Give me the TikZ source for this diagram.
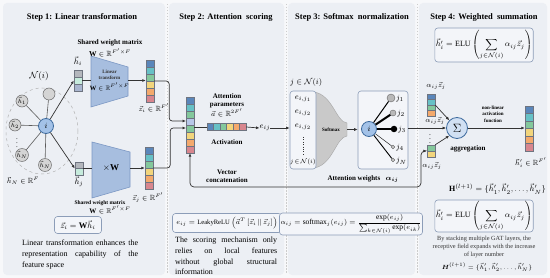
\documentclass[tikz,border=0pt]{standalone}
\usepackage{amsmath}
\usepackage{amssymb}
\usepackage{fontspec}
\setmainfont{Liberation Serif}
\usetikzlibrary{arrows.meta}
\definecolor{pagec}{HTML}{F7F8FA}
\definecolor{panelc}{HTML}{ECEFF4}
\definecolor{boxc}{HTML}{8C9DB8}
\definecolor{boxf}{HTML}{F3F5F9}
\definecolor{trapf}{HTML}{A7BEDF}
\definecolor{trapd}{HTML}{7C98C4}
\definecolor{vblue}{HTML}{5A86BA}
\definecolor{vteal}{HTML}{67C1C6}
\definecolor{vgreen}{HTML}{84C89C}
\definecolor{vyellow}{HTML}{F2D57C}
\definecolor{vorange}{HTML}{F4A96C}
\definecolor{vpink}{HTML}{D8868E}
\definecolor{vlav}{HTML}{B7C7E8}
\definecolor{hgrey}{HTML}{B4B7BD}
\definecolor{hmint}{HTML}{C6EBDC}
\definecolor{hlav}{HTML}{A9B5CF}
\definecolor{inode}{HTML}{A3C2E8}
\definecolor{inoded}{HTML}{3E6B9E}
\definecolor{gnodef}{HTML}{D4D4D4}
\definecolor{darkc}{HTML}{333333}
\definecolor{funnelc}{HTML}{C9C9C9}
\definecolor{cellb}{HTML}{6E7480}
\newcommand{\vcells}[5]{%
  \foreach \cc [count=\kk] in {#5}{%
    \filldraw[fill=\cc, draw=cellb, line width=0.3pt] ({#1-#3/2},{#2+(\kk-1)*#4}) rectangle ({#1+#3/2},{#2+\kk*#4});
  }}
\newcommand{\hcells}[5]{%
  \foreach \cc [count=\kk] in {#5}{%
    \filldraw[fill=\cc, draw=cellb, line width=0.3pt] ({#1+(\kk-1)*#3},{#2-#4/2}) rectangle ({#1+\kk*#3},{#2+#4/2});
  }}
\tikzset{
  ttl/.style={font=\fontsize{8.5}{10}\selectfont\bfseries, inner sep=0},
  lbl/.style={font=\fontsize{7}{8}\selectfont\bfseries, align=center, inner sep=0},
  mlbl/.style={font=\fontsize{7.5}{8}\selectfont, inner sep=0},
  body/.style={font=\fontsize{8}{10}\selectfont, inner sep=0, anchor=base west},
  fbox/.style={draw=boxc, fill=boxf, rounded corners=3pt, line width=0.6pt, inner sep=1pt},
  arr/.style={-{Latex[length=3.5pt,width=3pt]}, line width=0.7pt, draw=darkc},
  vecn/.style={inner sep=0, minimum width=8, draw=none},
  gnode/.style={circle, fill=gnodef, draw=gray!80!black, line width=0.5pt, minimum size=12, inner sep=0, font=\fontsize{6}{6}\selectfont},
  inodest/.style={circle, fill=inode, draw=inoded, line width=0.8pt, minimum size=15, inner sep=0, font=\fontsize{8.5}{8}\selectfont},
  gedge/.style={draw=darkc!80, line width=0.6pt},
  sep/.style={draw=gray!40, line width=0.8pt, dash pattern=on 1.5pt off 1.5pt},
}
\begin{document}
\begin{tikzpicture}[x=1pt,y=-1pt]
\fill[pagec] (0,0) rectangle (550,278);
\useasboundingbox (0,0) rectangle (550,278);
% panels
\fill[panelc, rounded corners=4pt] (3,3) rectangle (165,275);
\fill[panelc, rounded corners=4pt] (169,3) rectangle (284,275);
\fill[panelc, rounded corners=4pt] (288,3) rectangle (415,275);
\fill[panelc, rounded corners=4pt] (419,3) rectangle (547,275);
\draw[sep] (167,4) -- (167,274);
\draw[sep] (286,4) -- (286,274);
\draw[sep] (417,4) -- (417,274);
% titles
\node[ttl] (t1) at (82,17) {Step 1: Linear transformation};
\node[ttl] (t2) at (226,17) {Step 2: Attention\ \ scoring};
\node[ttl] (t3) at (352,17) {Step 3: Softmax\ \ normalization};
\node[ttl] (t4) at (484,17) {Step 4: Weighted\ \ summation};

% ===== Step 1 =====
\draw[gray!60, dashed, line width=0.5pt] (42,131) ellipse [x radius=36, y radius=43];
\node[font=\fontsize{9.5}{9}\selectfont, inner sep=0] (Ni) at (39,76) {$\mathcal{N}(i)$};
\node[inodest] (ci) at (46,126) {$i$};
\node[gnode] (g0) at (49,94) {};
\node[gnode] (g1) at (22,101) {$\vec{h}_1$};
\node[gnode] (g2) at (15,125) {$\vec{h}_2$};
\node[gnode] (g3) at (22,155) {$\vec{h}_N$};
\node[gnode] (g4) at (45,165) {$\vec{h}_N$};
\node[font=\fontsize{7}{7}\selectfont, inner sep=0] (gd) at (17,140) {$\vdots$};
\foreach \g in {g0,g1,g2,g3,g4} \draw[gedge] (ci) -- (\g);
\node[mlbl] (hNl) at (23,181) {$\vec{h}_N\in\mathbb{R}^{F}$};
% h_i
\vcells{78}{70}{8}{7}{hgrey,hmint,hlav}
\node[vecn, minimum height=21] (hi) at (78,80.5) {};
\node[mlbl, font=\fontsize{8.5}{8}\selectfont] (hil) at (78,61) {$\vec{h}_i$};
% h_j
\vcells{79}{162}{8}{6.5}{hgrey,hmint}
\node[vecn, minimum height=13] (hj) at (79,168.5) {};
\node[mlbl, font=\fontsize{8.5}{8}\selectfont] (hjl) at (79,182) {$\vec{h}_j$};
\draw[arr] (ci) -- (hi.west);
\draw[arr] (ci) -- (hj.west);
% trapezoid 1
\filldraw[fill=trapf, draw=trapd, line width=0.6pt] (91,56) -- (128,67) -- (128,96) -- (91,107) -- cycle;
\coordinate (t1w) at (91,80.5);
\coordinate (t1e) at (128,80.5);
\node[lbl, font=\fontsize{5}{6}\selectfont\bfseries, text=darkc] (t1a) at (109.5,75) {Linear\\transform};
\node[mlbl, font=\fontsize{6.5}{7}\selectfont] (t1b) at (109.5,87) {$\mathbf{W}\in\mathbb{R}^{F'\times F}$};
\node[lbl] (swm1) at (110,43) {Shared weight matrix};
\node[mlbl] (swm1b) at (110,53) {$\mathbf{W}\in\mathbb{R}^{F'\times F}$};
\draw[darkc, line width=0.7pt] (hi.east |- t1w) -- (t1w);
% trapezoid 2
\filldraw[fill=trapf, draw=trapd, line width=0.6pt] (92,142) -- (130,152) -- (130,187) -- (92,198) -- cycle;
\coordinate (t2w) at (92,168);
\coordinate (t2e) at (130,168);
\node[mlbl, font=\fontsize{9}{9}\selectfont] (t2a) at (111,168) {$\times\mathbf{W}$};
\draw[darkc, line width=0.7pt] (hj.east |- t2w) -- (t2w);
\node[lbl, font=\fontsize{5.5}{6}\selectfont\bfseries] (swm2) at (100,203) {Shared weight matrix};
\node[mlbl, font=\fontsize{7}{8}\selectfont] (swm2b) at (110,210) {$\mathbf{W}\in\mathbb{R}^{F'\times F}$};
% z_i, z_j
\vcells{150}{60}{8}{7}{vblue,vteal,vgreen,vyellow,vorange,vpink}
\node[vecn, minimum height=42] (zi) at (150,81) {};
\node[mlbl] (zil) at (154,108) {$\vec{z}_i\in\mathbb{R}^{F'}$};
\vcells{149}{147}{8}{7}{vblue,vteal,vgreen,vyellow,vorange,vpink}
\node[vecn, minimum height=42] (zj) at (149,168) {};
\node[mlbl] (zjl) at (148,198) {$\vec{z}_j\in\mathbb{R}^{F'}$};
\draw[arr] (t1e) -- (t1e -| zi.west);
\draw[arr] (t2e) -- (t2e -| zj.west);
% formula + text
\node[fbox, minimum width=47, minimum height=17, font=\fontsize{8.5}{9}\selectfont] (f1) at (78,225) {$\vec{z}_i=\mathbf{W}\vec{h}_i$};
\node[body] (b11) at (22,245) {\makebox[116pt][s]{Linear transformation enhances the}};
\node[body] (b12) at (22,256) {\makebox[116pt][s]{representation capability of the}};
\node[body] (b13) at (22,267) {feature space};

% ===== Step 2 =====
\vcells{190}{97}{8}{7}{vblue,vteal,vgreen,vlav,vgreen,vyellow,vorange,vpink}
\node[vecn, minimum height=56] (cc) at (190,125) {};
\coordinate (ci1) at (186,121);
\coordinate (ci2) at (186,128);
\draw[arr, rounded corners=3pt] (zi.east) -- ++(15,0) |- (ci1);
\draw[arr, rounded corners=3pt] (zj.east) -- ++(17,0) |- (ci2);
\hcells{207}{127}{6.5}{7}{vblue,vteal,vgreen,vyellow,vorange,vpink}
\node[inner sep=0, minimum width=39, minimum height=7] (av) at (226.5,127) {};
\draw[darkc, line width=0.7pt] (av.west -| cc.east) -- (av.west);
\node[lbl] (apar) at (227,101) {Attention\\parameters};
\node[mlbl] (aparb) at (227,113) {$\vec{a}\in\mathbb{R}^{2F'}$};
\node[lbl] (act) at (227,142) {Activation};
\node[lbl] (vcon) at (227,176) {Vector\\concatenation};
\node[mlbl, font=\fontsize{8.5}{9}\selectfont] (eij) at (265,128) {$e_{ij}$};
\draw[arr] (av.east) -- (eij.west);
\node[fbox, minimum width=109, minimum height=19, inner sep=0.5pt, font=\fontsize{6.6}{8}\selectfont] (f2) at (227,223) {$e_{ij}=\mathrm{LeakyReLU}\left(\vec{a}^{T}\left[\vec{z}_i\,\|\,\vec{z}_j\right]\right)$};
\node[body] (b21) at (175,243) {\makebox[102pt][s]{The scoring mechanism only}};
\node[body] (b22) at (175,254) {\makebox[102pt][s]{relies on local features}};
\node[body] (b23) at (175,264) {\makebox[102pt][s]{without global structural}};
\node[body] (b24) at (175,274) {information};

% ===== Step 3 =====
\node[mlbl, font=\fontsize{8.5}{9}\selectfont, anchor=west] (jn) at (290,83) {$j\in\mathcal{N}(i)$};
\filldraw[fill=funnelc, draw=gray!70, line width=0.4pt] (314,92) .. controls (333,95) and (336,122) .. (347,123) -- (347,136) .. controls (336,137) and (333,165) .. (314,168) -- cycle;
\node[fbox, minimum width=26, minimum height=78] (eb) at (303,130) {};
\node[mlbl, font=\fontsize{8}{8}\selectfont] (e1) at (303,99) {$e_{i,j_1}$};
\node[mlbl, font=\fontsize{8}{8}\selectfont] (e2) at (303,113) {$e_{i,j_2}$};
\node[mlbl, font=\fontsize{8}{8}\selectfont] (e3) at (303,127) {$e_{i,j_2}$};
\draw[darkc, line width=0.8pt, dash pattern=on 0.8pt off 1.6pt] (303,137) -- (303,154);
\node[mlbl, font=\fontsize{6.5}{7}\selectfont] (e4) at (303,162) {$j\!\in\!\mathcal{N}(i)$};
\node[lbl, font=\fontsize{5}{6}\selectfont\bfseries] (smx) at (331,130) {Softmax};
\draw[arr] (eij.east) -- (eij.east -| eb.west);
\coordinate (fun) at (347,129.5);
\node[fbox, minimum width=50, minimum height=78] (ab) at (383,130) {};
\draw[arr] (fun) -- (fun -| ab.west);
\node[inodest] (ai) at (369,129) {$i$};
\node[circle, fill=gray!55, draw=gray!80!black, minimum size=8, inner sep=0] (j1) at (391,98) {};
\node[circle, fill=gray!55, draw=gray!80!black, minimum size=6, inner sep=0] (j2) at (393,113) {};
\node[circle, fill=black, minimum size=6.5, inner sep=0] (j3) at (394,129) {};
\node[circle, fill=gray!30, draw=gray!80!black, minimum size=3.5, inner sep=0] (j4) at (393,147) {};
\node[circle, fill=gray!30, draw=gray!80!black, minimum size=3.5, inner sep=0] (j5) at (393,160) {};
\draw[black, line width=1pt] (ai) -- (j1);
\draw[black, line width=2pt] (ai) -- (j2);
\draw[black, line width=2.5pt] (ai) -- (j3);
\draw[black, line width=0.4pt] (ai) -- (j4);
\draw[black, line width=0.9pt] (ai) -- (j5);
\node[mlbl, font=\fontsize{8}{8}\selectfont, anchor=west] (j1l) at (396,99) {$j_1$};
\node[mlbl, font=\fontsize{8}{8}\selectfont, anchor=west] (j2l) at (397,114) {$j_2$};
\node[mlbl, font=\fontsize{8}{8}\selectfont, anchor=west] (j3l) at (398,130) {$j_3$};
\node[mlbl, font=\fontsize{8}{8}\selectfont, anchor=west] (j4l) at (396,148) {$j_4$};
\node[mlbl, font=\fontsize{8}{8}\selectfont, anchor=west] (j5l) at (396,161) {$j_N$};
\node[lbl] (aw) at (363,179) {Attention weights\ \ \ $\boldsymbol{\alpha_{ij}}$};
\node[fbox, minimum width=122, minimum height=22, font=\fontsize{7.5}{9}\selectfont] (f3) at (351,224) {$\alpha_{ij}=\mathrm{softmax}_j(e_{ij})=\dfrac{\exp(e_{ij})}{\sum_{k\in\mathcal{N}(i)}\exp(e_{ik})}$};

% ===== Step 4 =====
\node[fbox, minimum width=93, minimum height=34, font=\fontsize{8}{9}\selectfont] (f4a) at (484,45) {$\vec{h}'_i=\mathrm{ELU}\left(\displaystyle\sum_{j\in\mathcal{N}(i)}\alpha_{ij}\vec{z}_j\right)$};
\node[circle, fill=inode!50, draw=inoded, line width=0.8pt, minimum size=21, inner sep=0, font=\fontsize{12}{12}\selectfont] (sg) at (457,128) {$\Sigma$};
\draw[arr] (ab.east |- sg) -- (sg.west);
\node[mlbl] (az1) at (436,86) {$\alpha_{ij}\vec{z}_j$};
\vcells{431}{94}{8}{5.5}{vblue,vteal,vgreen,vorange}
\node[vecn, minimum height=22] (tv) at (431,105) {};
\node[mlbl] (az2) at (435,121) {$\alpha_{ij}\vec{z}_j$};
\node[mlbl] (azd) at (430,136) {$\vdots$};
\vcells{431}{145}{8}{6}{vgreen,vyellow}
\node[vecn, minimum height=12] (bv) at (431,151) {};
\node[mlbl] (az3) at (432,166) {$\alpha_{ij}\vec{z}_j$};
\draw[arr] (tv.east) -- (sg.north west);
\draw[arr] (bv.north east) -- (sg.south west);
\node[lbl] (agg) at (468,149) {aggregation};
\vcells{529}{106}{8}{7.5}{vblue,vteal,vgreen,vyellow,vorange,vpink}
\node[vecn, minimum height=45] (ov) at (529,128.5) {};
\draw[arr] (sg.east) -- (sg.east -| ov.west);
\node[lbl, font=\fontsize{5}{6.5}\selectfont\bfseries] (nla) at (493,114) {non-linear\\activation\\function};
\node[mlbl] (ovl) at (531,163) {$\vec{h}'_i\in\mathbb{R}^{F'}$};
\node[mlbl, font=\fontsize{8}{9}\selectfont, anchor=east] (Hl) at (546,189) {$\mathbf{H}^{(l+1)}=\{\vec{h}'_1,\vec{h}'_2,\ldots,\vec{h}'_N\}$};
\node[fbox, minimum width=88, minimum height=32, font=\fontsize{8}{9}\selectfont] (f4b) at (484,216) {$\vec{h}'_i=\mathrm{ELU}\left(\displaystyle\sum_{j\in\mathcal{N}(i)}\alpha_{ij}\vec{z}_j\right)$};
\node[lbl, font=\fontsize{6.3}{8}\selectfont, text=darkc] (b4) at (484,247) {By stacking multiple GAT layers, the\\receptive field expands with the increase\\of layer number};
\node[mlbl, font=\fontsize{6}{7}\selectfont] (Hs) at (487,267) {$\boldsymbol{H}^{(l+1)}=\{\vec{h}'_1,\vec{h}'_2,\ldots,\vec{h}'_N\}$};

% feedback connector
\coordinate (fb) at (421,187);
\draw[{Latex[length=3.5pt,width=3pt]}-{Latex[length=3.5pt,width=3pt]}, line width=0.7pt, draw=darkc, rounded corners=4pt] (cc.south) |- (fb) |- (bv.west);
\end{tikzpicture}
\end{document}
